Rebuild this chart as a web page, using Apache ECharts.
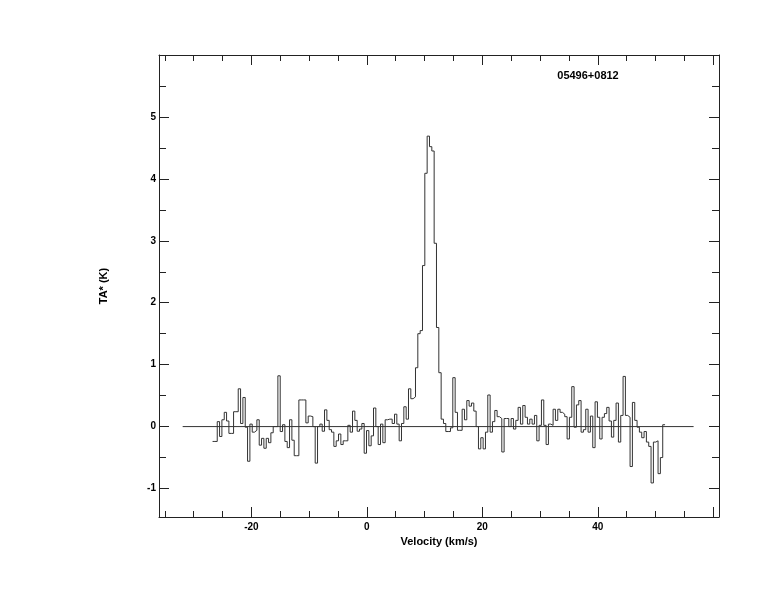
<!DOCTYPE html>
<html><head><meta charset="utf-8">
<script src="https://cdn.jsdelivr.net/npm/echarts@6/dist/echarts.min.js"></script>
<style>html,body{margin:0;padding:0;background:#fff}#c{width:774px;height:612px}</style>
</head><body><div id="c"></div>
<script>
// ---- data ----
const sourceName = "05496+0812";
const xAxisTitle = "Velocity (km/s)";
const yAxisTitle = "TA* (K)";
const firstChannelLeftKms = -26.72;   // left edge of first channel
const channelWidthKms = 0.404;        // channel spacing
const antennaTemp = [
 -0.24,-0.24,0.08,-0.16,0.11,0.23,0.09,-0.11,-0.11,0.24,
 0.24,0.61,0.05,0.47,-0.01,-0.56,0.04,-0.09,-0.06,0.11,
 -0.30,-0.19,-0.35,-0.19,-0.26,-0.10,0.0,0.0,0.82,-0.08,
 0.03,-0.24,-0.34,0.11,-0.22,-0.47,-0.47,0.43,0.43,0.43,
 0.06,0.17,0.16,0.0,-0.59,0.0,0.04,-0.075,0.27,0.10,
 -0.05,-0.09,-0.32,-0.23,-0.12,-0.29,-0.23,-0.23,0.02,-0.09,
 0.25,0.10,-0.075,-0.04,0.05,-0.43,-0.065,-0.31,-0.15,0.30,
 0.0,-0.29,0.04,-0.26,0.11,0.12,0.12,0.05,0.20,0.04,
 -0.23,0.05,0.32,0.12,0.61,0.45,0.48,0.95,1.50,1.55,
 2.60,4.09,4.69,4.52,4.45,2.96,1.60,0.87,0.12,0.05,
 -0.08,-0.08,-0.02,0.79,0.23,-0.06,-0.06,0.28,0.11,0.42,
 0.33,0.38,0.25,0.0,-0.36,-0.18,-0.36,-0.09,0.51,-0.09,
 0.08,0.26,0.16,0.13,-0.41,0.13,0.13,0.0,0.13,-0.04,
 0.10,0.31,0.04,0.34,0.15,0.04,0.12,0.04,0.18,-0.23,
 0.02,0.43,0.02,-0.29,0.04,0.02,0.28,0.10,0.28,0.23,
 0.20,0.16,-0.20,0.15,0.645,-0.01,0.35,0.42,-0.09,-0.05,
 0.28,-0.09,0.17,-0.34,0.40,0.15,-0.20,0.15,0.21,0.31,
 0.09,-0.17,0.10,0.38,-0.25,0.18,0.81,0.18,0.15,-0.645,
 0.39,0.10,-0.01,-0.09,-0.18,-0.08,-0.25,-0.32,-0.91,-0.25,
 -0.23,-0.76,-0.50,0.03
];
const baselineVelocity = [-31.9, 56.6];
const baselineLevel = 0;
const xMajorTicks = [-20, 0, 20, 40, 60];
const xLabelValues = [-20, 0, 20, 40];
const xMinorTicks = [-35,-30,-25,-15,-10,-5,5,10,15,25,30,35,45,50,55];
const yMajorTicks = [-1, 0, 1, 2, 3, 4, 5];
const yMinorTicks = [-0.5, 0.5, 1.5, 2.5, 3.5, 4.5, 5.5];

// ---- chart ----
const X_MIN = -36, X_MAX = 61, Y_MIN = -1.46, Y_MAX = 6;
const FONT = 'Liberation Sans';
const AX = '#222';

const stepData = antennaTemp.map((t, i) => [firstChannelLeftKms + i * channelWidthKms, t]);
stepData.push([firstChannelLeftKms + antennaTemp.length * channelWidthKms, antennaTemp[antennaTemp.length - 1]]);

function axis(kind, pos, ticks, len, labels, showLine, name) {
  const o = {
    type: 'value', position: pos, gridIndex: 0,
    min: kind === 'x' ? X_MIN : Y_MIN, max: kind === 'x' ? X_MAX : Y_MAX,
    axisLine: {show: showLine, onZero: false, lineStyle: {color: AX, width: 1}},
    axisTick: {show: true, inside: true, length: len, customValues: ticks, lineStyle: {color: AX, width: 1}},
    axisLabel: labels ? {show: true, customValues: labels, margin: kind === 'x' ? 5 : 3,
      color: '#000', fontFamily: FONT, fontWeight: 'bold', fontSize: 10} : {show: false},
    splitLine: {show: false}
  };
  if (name) {
    o.name = name; o.nameLocation = 'middle';
    o.nameGap = kind === 'x' ? 10 : 50;
    o.nameTextStyle = {color: '#000', fontFamily: FONT, fontWeight: 'bold', fontSize: 11};
  }
  return o;
}

const chart = echarts.init(document.getElementById('c'), null, {renderer: 'canvas'});
chart.setOption({
  animation: false,
  backgroundColor: '#fff',
  title: {text: sourceName, left: 588, top: 70, textAlign: 'center', padding: 0,
    textStyle: {color: '#000', fontFamily: FONT, fontWeight: 'bold', fontSize: 11}},
  grid: {left: 159, top: 55, width: 560, height: 462, containLabel: false},
  xAxis: [
    axis('x', 'bottom', xMajorTicks, 10, xLabelValues, true, xAxisTitle),
    axis('x', 'bottom', xMinorTicks, 6, null, false),
    axis('x', 'top', xMajorTicks, 10, null, true),
    axis('x', 'top', xMinorTicks, 6, null, false)
  ],
  yAxis: [
    axis('y', 'left', yMajorTicks, 10, yMajorTicks, true, yAxisTitle),
    axis('y', 'left', yMinorTicks, 7, null, false),
    axis('y', 'right', yMajorTicks, 10, null, true),
    axis('y', 'right', yMinorTicks, 7, null, false)
  ],
  series: [
    {type: 'line', xAxisIndex: 0, yAxisIndex: 0, step: 'end', data: stepData, symbol: 'none',
      lineStyle: {color: '#333', width: 1}, silent: true},
    {type: 'line', xAxisIndex: 0, yAxisIndex: 0,
      data: baselineVelocity.map(v => [v, baselineLevel]), symbol: 'none',
      lineStyle: {color: '#333', width: 1}, silent: true}
  ]
});
</script></body></html>
